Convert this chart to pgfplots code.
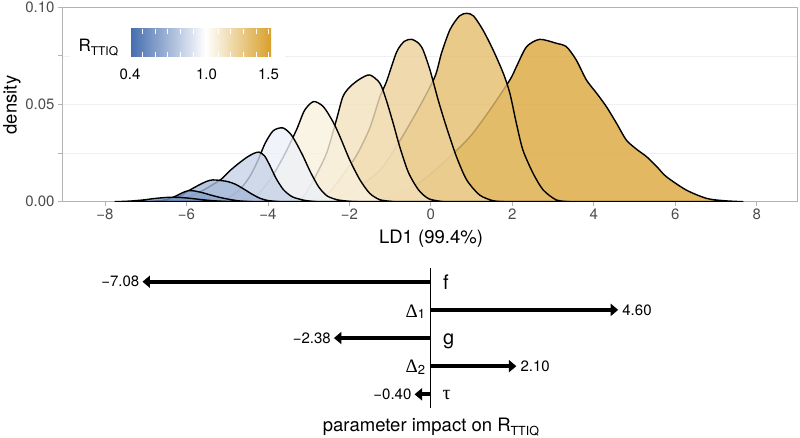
\documentclass[border=0pt]{standalone}
\usepackage{fontspec}
\setmainfont{TeX Gyre Heros}
\newfontfamily\gk{Liberation Serif}
\usepackage{pgfplots}
\pgfplotsset{compat=1.18}
\usetikzlibrary{arrows.meta}
\definecolor{lowc}{RGB}{70,110,175}
\definecolor{highc}{RGB}{216,160,42}
\definecolor{tickgray}{RGB}{77,77,77}
\definecolor{bordergray}{RGB}{179,179,179}
\definecolor{gridgray}{RGB}{240,240,240}
\colorlet{cA}{lowc!74!white}
\colorlet{cB}{lowc!63!white}
\colorlet{cC}{lowc!48!white}
\colorlet{cD}{lowc!30!white}
\colorlet{cE}{lowc!10!white}
\colorlet{cF}{highc!15!white}
\colorlet{cG}{highc!32!white}
\colorlet{cH}{highc!48!white}
\colorlet{cI}{highc!69!white}
\colorlet{cJ}{highc!92!white}
\newcommand{\fs}[1]{\fontsize{#1}{#1}\selectfont}
\pgfplotsset{dens/.style={draw=black, line width=1.4pt, fill opacity=0.8, smooth, tension=0.45, line join=round}}
\begin{document}
\begin{tikzpicture}
\begin{axis}[
  at={(62pt,236.3pt)}, anchor=south west,
  scale only axis, width=735pt, height=194.4pt,
  xmin=-9.056, xmax=8.99, ymin=0, ymax=0.1,
  xtick={-8,-6,-4,-2,0,2,4,6,8},
  xticklabels={−8,−6,−4,−2,0,2,4,6,8},
  ytick={0,0.025,0.05,0.075,0.1},
  yticklabels={0.00,,0.05,,0.10},
  tick pos=left, tick align=outside, major tick length=4pt,
  axis line style={bordergray, line width=0.8pt},
  tick style={bordergray, line width=0.8pt},
  ymajorgrids, major grid style={gridgray, line width=0.6pt},
  ticklabel style={font=\fs{15}, text=tickgray},
]
% J
\addplot[dens, fill=cJ] coordinates {(-1.8,0) (-1.25,0.0012) (-0.76,0.0043) (-0.19,0.0112) (0.38,0.0214) (0.96,0.0334) (1.45,0.0472) (1.94,0.0626) (2.10,0.0694) (2.35,0.0797) (2.67,0.0835) (3.08,0.0815) (3.33,0.0797) (3.57,0.0729) (3.82,0.0626) (4.07,0.0558) (4.31,0.0489) (4.56,0.0403) (4.80,0.0317) (5.05,0.0270) (5.30,0.0231) (5.55,0.0180) (5.78,0.0129) (6.27,0.0060) (6.77,0.0017) (7.2,0.0005) (7.66,0)} \closedcycle;
% I
\addplot[dens, fill=cI] coordinates {(-2.5,0) (-2.0,0.0050) (-1.3,0.0150) (-0.8,0.0300) (-0.3,0.0480) (0.10,0.0643) (0.26,0.0763) (0.47,0.0885) (0.70,0.0955) (0.88,0.0969) (1.05,0.0955) (1.28,0.0883) (1.53,0.0780) (1.78,0.0660) (1.94,0.0558) (2.10,0.0403) (2.26,0.0266) (2.51,0.0146) (2.76,0.0060) (3.08,0.0009) (3.4,0)} \closedcycle;
% H
\addplot[dens, fill=cH] coordinates {(-3.0,0) (-2.7,0.0020) (-2.48,0.0051) (-2.16,0.0137) (-1.82,0.0240) (-1.50,0.0378) (-1.25,0.0540) (-1.09,0.0617) (-0.84,0.0770) (-0.65,0.0825) (-0.47,0.0835) (-0.30,0.0815) (-0.19,0.0780) (-0.02,0.0677) (0.18,0.0523) (0.38,0.0386) (0.63,0.0231) (0.88,0.0112) (1.20,0.0034) (1.53,0.0005) (1.8,0)} \closedcycle;
% G
\addplot[dens, fill=cG] coordinates {(-3.6,0) (-3.3,0.0010) (-3.13,0.0026) (-2.88,0.0112) (-2.56,0.0249) (-2.32,0.0420) (-2.16,0.0540) (-1.99,0.0590) (-1.75,0.0630) (-1.50,0.0652) (-1.25,0.0609) (-1.09,0.0520) (-0.92,0.0400) (-0.76,0.0280) (-0.55,0.0150) (-0.3,0.0060) (-0.05,0.0015) (0.3,0)} \closedcycle;
% F
\addplot[dens, fill=cF] coordinates {(-5.0,0) (-4.6,0.0010) (-4.28,0.0034) (-3.95,0.0112) (-3.62,0.0231) (-3.30,0.0369) (-3.1,0.0470) (-2.88,0.0515) (-2.64,0.0489) (-2.40,0.0410) (-2.23,0.0334) (-1.99,0.0214) (-1.74,0.0112) (-1.50,0.0043) (-1.25,0.0010) (-0.9,0)} \closedcycle;
% E
\addplot[dens, fill=cE] coordinates {(-5.6,0) (-5.3,0.0006) (-5.0,0.0018) (-4.7,0.0060) (-4.45,0.0128) (-4.25,0.0210) (-4.07,0.0300) (-3.87,0.0365) (-3.64,0.0380) (-3.45,0.0350) (-3.3,0.0300) (-3.13,0.0231) (-2.95,0.0150) (-2.75,0.0075) (-2.55,0.0030) (-2.3,0.0010) (-2.0,0.0002) (-1.8,0)} \closedcycle;
% D
\addplot[dens, fill=cD] coordinates {(-6.8,0) (-6.4,0.0005) (-6.1,0.0015) (-5.85,0.0033) (-5.6,0.0058) (-5.4,0.0082) (-5.15,0.0115) (-4.93,0.0160) (-4.73,0.0195) (-4.52,0.0228) (-4.35,0.0248) (-4.22,0.0255) (-4.08,0.0235) (-3.95,0.0185) (-3.8,0.0120) (-3.62,0.0062) (-3.4,0.0025) (-3.1,0.0007) (-2.8,0)} \closedcycle;
% C
\addplot[dens, fill=cC] coordinates {(-6.9,0) (-6.5,0.0008) (-6.2,0.0024) (-5.95,0.0056) (-5.7,0.0085) (-5.5,0.0105) (-5.36,0.0112) (-5.2,0.0110) (-5.0,0.0104) (-4.8,0.0090) (-4.6,0.0066) (-4.4,0.0040) (-4.2,0.0018) (-4.0,0.0006) (-3.7,0)} \closedcycle;
% B
\addplot[dens, fill=cB] coordinates {(-6.9,0) (-6.6,0.0006) (-6.4,0.0017) (-6.25,0.0030) (-6.1,0.0046) (-5.95,0.0057) (-5.8,0.0055) (-5.6,0.0046) (-5.42,0.0035) (-5.2,0.0023) (-4.95,0.0012) (-4.7,0.0004) (-4.4,0)} \closedcycle;
% A
\addplot[dens, fill=cA] coordinates {(-7.75,0) (-7.4,0.0003) (-7.06,0.0009) (-6.8,0.0016) (-6.55,0.0021) (-6.35,0.0023) (-6.1,0.0021) (-5.85,0.0016) (-5.6,0.0010) (-5.35,0.0005) (-5.0,0.0001) (-4.8,0)} \closedcycle;
\end{axis}
% legend
\fill[white] (70pt,348pt) rectangle (285pt,421pt);
\shade[left color=lowc, right color=white] (131pt,381pt) rectangle (205.8pt,409pt);
\shade[left color=white, right color=highc] (205.4pt,381pt) rectangle (271pt,409pt);
\foreach \t in {142.6,155.2,167.8,180.4,193,205.6,218.2,230.8,243.4,256,268.6}{
  \draw[white, line width=0.7pt] (\t pt,381pt) -- ++(0,5pt);
  \draw[white, line width=0.7pt] (\t pt,409pt) -- ++(0,-5pt);
}
\node[anchor=base west, inner sep=0pt] at (78.3pt,386.3pt) {\fs{17}R\raisebox{-4.3pt}{\fs{12}TTIQ}};
\node[anchor=base, inner sep=0pt] at (130pt,358.7pt) {\fs{15}0.4};
\node[anchor=base, inner sep=0pt] at (206.5pt,358.7pt) {\fs{15}1.0};
\node[anchor=base, inner sep=0pt] at (268.5pt,358.7pt) {\fs{15}1.5};
% axis titles
\node[rotate=90, anchor=center, inner sep=0pt] at (12pt,333pt) {\fs{18.5}density};
\node[anchor=base, inner sep=0pt] at (431pt,194.5pt) {\fs{18.5}LD1 (99.4\%)};
% bottom panel
\begin{axis}[
  at={(62pt,29.6pt)}, anchor=south west,
  scale only axis, width=735pt, height=140.75pt,
  xmin=-9.056, xmax=8.99, ymin=0.5, ymax=5.5,
  axis lines=none, clip=false,
]
\addplot[black, line width=1.2pt] coordinates {(0,0.503) (0,5.476)};
\addplot[black, line width=4pt, -{Triangle[length=7.5pt,width=12pt]}] coordinates {(0,5) (-7.08,5)};
\addplot[black, line width=4pt, -{Triangle[length=7.5pt,width=12pt]}] coordinates {(0,4) (4.60,4)};
\addplot[black, line width=4pt, -{Triangle[length=7.5pt,width=12pt]}] coordinates {(0,3) (-2.38,3)};
\addplot[black, line width=4pt, -{Triangle[length=7.5pt,width=12pt]}] coordinates {(0,2) (2.10,2)};
\addplot[black, line width=4pt, -{Triangle[length=7.5pt,width=12pt]}] coordinates {(0,1) (-0.40,1)};
\node[anchor=east, inner sep=0pt, xshift=-3pt] at (axis cs:-7.08,5) {\fs{15}−7.08};
\node[anchor=west, inner sep=0pt, xshift=4pt] at (axis cs:4.60,4) {\fs{15}4.60};
\node[anchor=east, inner sep=0pt, xshift=-3pt] at (axis cs:-2.38,3) {\fs{15}−2.38};
\node[anchor=west, inner sep=0pt, xshift=4pt] at (axis cs:2.10,2) {\fs{15}2.10};
\node[anchor=east, inner sep=0pt, xshift=-3pt] at (axis cs:-0.40,1) {\fs{15}−0.40};
\node[anchor=base west, inner sep=0pt, xshift=12pt, yshift=-7.4pt] at (axis cs:0,5) {\fs{20}f};
\node[anchor=base west, inner sep=0pt, xshift=12pt, yshift=-6.8pt] at (axis cs:0,3) {\fs{20}g};
\node[anchor=base west, inner sep=0pt, xshift=11.5pt, yshift=-4.7pt] at (axis cs:0,1) {\gk\fs{20}τ};
\node[anchor=base east, inner sep=0pt, xshift=-5.5pt, yshift=-7.5pt] at (axis cs:0,4) {\gk\fs{19}Δ\raisebox{-1.5pt}{\rmfamily\fs{13}1}};
\node[anchor=base east, inner sep=0pt, xshift=-5.5pt, yshift=-6.8pt] at (axis cs:0,2) {\gk\fs{19}Δ\raisebox{-1.5pt}{\rmfamily\fs{13}2}};
\end{axis}
\node[anchor=base, inner sep=0pt] at (431pt,6.4pt) {\fs{18.5}parameter impact on R\raisebox{-4pt}{\fs{12.5}TTIQ}};
\pgfresetboundingbox
\useasboundingbox (0,0) rectangle (800pt,438pt);
\end{tikzpicture}
\end{document}
